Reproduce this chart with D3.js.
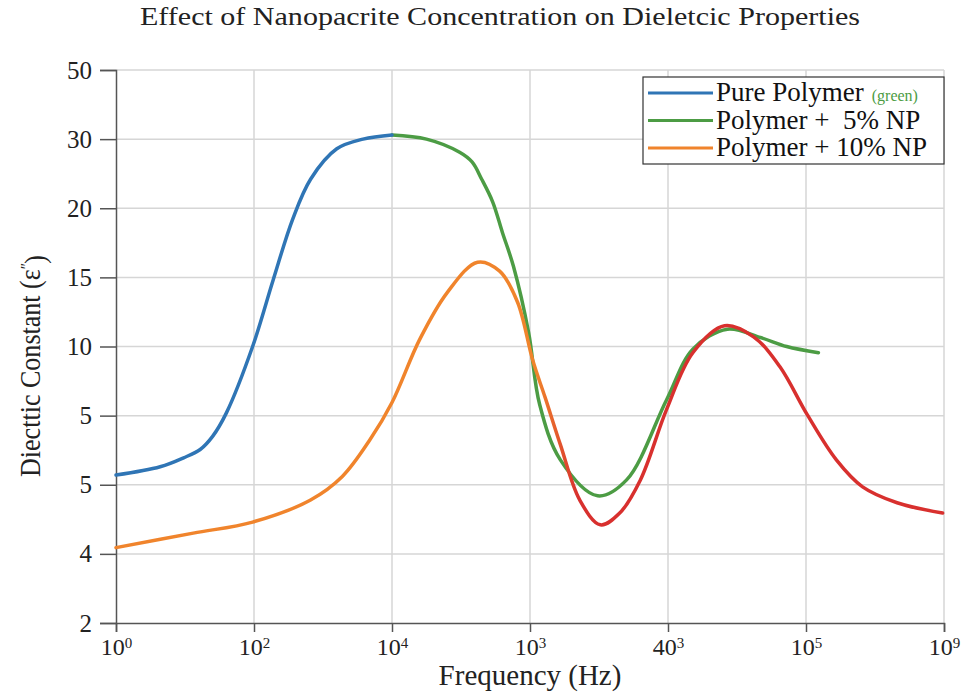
<!DOCTYPE html>
<html>
<head>
<meta charset="utf-8">
<script src="https://cdn.jsdelivr.net/npm/d3@7"></script>
<style>
  body { margin: 0; background: #fff; }
</style>
</head>
<body>
<svg id="chart" width="965" height="694"></svg>
<script>
const width = 965
const height = 694
const serif = 'Liberation Serif'

// tick labels (the axes are evenly spaced, labels as printed)
const xBase = ['10', '10', '10', '10', '40', '10', '10']
const xExp = ['0', '2', '4', '3', '3', '5', '9']
const yLabels = ['2', '4', '5', '5', '10', '15', '20', '30', '50']

// series, positions in tick units (x: tick index, y: tick index)
const pureX = [0, 0.32, 0.49, 0.61, 0.70, 0.80, 0.99, 1.14, 1.28, 1.41, 1.60, 1.79, 2.0]
const pureY = [2.14, 2.26, 2.39, 2.51, 2.70, 3.04, 4.00, 4.97, 5.84, 6.42, 6.86, 7.00, 7.06]

const np5X = [2.0, 2.25, 2.49, 2.58, 2.65, 2.73, 2.80, 2.88, 2.99, 3.07, 3.22, 3.49, 3.70, 3.99, 4.18, 4.43, 4.67, 4.86, 5.09]
const np5Y = [7.06, 7.00, 6.81, 6.67, 6.42, 6.09, 5.65, 5.16, 4.20, 3.16, 2.36, 1.84, 2.07, 3.23, 3.96, 4.25, 4.13, 4.00, 3.91]

const np10X = [0, 0.56, 0.99, 1.41, 1.64, 1.84, 2.0, 2.20, 2.40, 2.62, 2.78, 2.91, 3.02, 3.11, 3.22, 3.36, 3.51, 3.65, 3.80, 3.99, 4.18, 4.41, 4.62, 4.81, 5.01, 5.22, 5.41, 5.66, 5.99]
const np10Y = [1.09, 1.30, 1.46, 1.78, 2.12, 2.65, 3.19, 4.10, 4.78, 5.22, 5.09, 4.64, 3.80, 3.26, 2.58, 1.78, 1.42, 1.59, 2.07, 3.09, 3.91, 4.30, 4.14, 3.71, 3.01, 2.36, 1.97, 1.74, 1.59]

const legendNames = ['Pure Polymer', 'Polymer +  5% NP', 'Polymer + 10% NP']
const colours = ['#2f75b5', '#4c9c44', '#f0842c']
const red = '#d8302e'

const margin = {top: 70, right: 21, bottom: 71, left: 116}

const svg = d3.select('#chart')

const x = d3.scaleLinear()
    .domain([0, 6])
    .range([margin.left, width - margin.right])

const y = d3.scaleLinear()
    .domain([0, 8])
    .range([height - margin.bottom, margin.top])

// grid
const grid = svg.append('g').attr('class', 'grid')
grid.selectAll('line.v')
    .data(d3.range(1, 7))
    .join('line')
    .attr('x1', d => x(d)).attr('x2', d => x(d))
    .attr('y1', y(0)).attr('y2', y(8))
    .attr('stroke', '#d6d6d6').attr('stroke-width', 1.5)
grid.selectAll('line.h')
    .data(d3.range(1, 9))
    .join('line')
    .attr('y1', d => y(d)).attr('y2', d => y(d))
    .attr('x1', x(0)).attr('x2', x(6))
    .attr('stroke', '#d6d6d6').attr('stroke-width', 1.5)

// axes
const xAxis = svg.append('g')
    .attr('transform', `translate(0, ${y(0)})`)
    .call(d3.axisBottom(x).tickValues(d3.range(7)).tickSize(9).tickPadding(6).tickFormat(''))
    .attr('font-family', serif)
xAxis.select('.domain').attr('stroke', '#555').attr('stroke-width', 1.5)
xAxis.selectAll('.tick line').attr('stroke', '#555').attr('stroke-width', 1.5)
xAxis.selectAll('.tick text')
    .attr('fill', '#222')
    .attr('font-family', serif)
    .attr('font-size', 24)
    .each(function (d) {
        const t = d3.select(this)
        t.append('tspan').text(xBase[d])
        t.append('tspan').attr('dy', '-0.5em').attr('font-size', 15).text(xExp[d])
    })

const yAxis = svg.append('g')
    .attr('transform', `translate(${x(0)}, 0)`)
    .call(d3.axisLeft(y).tickValues(d3.range(9)).tickSize(16).tickPadding(8).tickFormat(d => yLabels[d]))
    .attr('font-family', serif)
yAxis.select('.domain').attr('stroke', '#555').attr('stroke-width', 1.5)
yAxis.selectAll('.tick line').attr('stroke', '#555').attr('stroke-width', 1.5)
yAxis.selectAll('.tick text')
    .attr('fill', '#222')
    .attr('font-family', serif)
    .attr('font-size', 25)

// orange -> red gradient for the 10% line
const defs = svg.append('defs')
const grad = defs.append('linearGradient')
    .attr('id', 'np10grad')
    .attr('gradientUnits', 'userSpaceOnUse')
    .attr('x1', x(3.05)).attr('x2', x(3.35))
    .attr('y1', 0).attr('y2', 0)
grad.append('stop').attr('offset', 0).attr('stop-color', colours[2])
grad.append('stop').attr('offset', 1).attr('stop-color', red)

const line = d3.line()
    .x(d => x(d[0]))
    .y(d => y(d[1]))
    .curve(d3.curveCatmullRom.alpha(0.5))

// green under, orange/red on top
const series = [
    {pts: d3.zip(np5X, np5Y), stroke: colours[1]},
    {pts: d3.zip(pureX, pureY), stroke: colours[0]},
    {pts: d3.zip(np10X, np10Y), stroke: 'url(#np10grad)'}
]

svg.append('g')
    .selectAll('path')
    .data(series)
    .join('path')
    .attr('d', d => line(d.pts))
    .attr('fill', 'none')
    .attr('stroke', d => d.stroke)
    .attr('stroke-width', 3.5)
    .attr('stroke-linecap', 'round')

// legend
const lg = svg.append('g').attr('transform', 'translate(643, 77)')
lg.append('rect')
    .attr('width', 301).attr('height', 87)
    .attr('fill', '#fff').attr('stroke', '#333').attr('stroke-width', 1.2)
legendNames.forEach((name, i) => {
    const cy = 16 + i * 27.5
    lg.append('line')
        .attr('x1', 5).attr('x2', 70)
        .attr('y1', cy).attr('y2', cy)
        .attr('stroke', colours[i]).attr('stroke-width', 3)
    const t = lg.append('text')
        .attr('x', 73).attr('y', cy + 8)
        .attr('fill', '#111')
        .attr('font-family', serif)
        .attr('font-size', 27)
        .style('white-space', 'pre')
        .text(name)
    if (i == 0) {
        t.append('tspan')
            .attr('dx', 8)
            .attr('fill', '#4c9c44')
            .attr('font-size', 16)
            .text('(green)')
    }
})

// titles
svg.append('text')
    .attr('x', 500).attr('y', 25)
    .attr('text-anchor', 'middle')
    .attr('fill', '#222')
    .attr('font-family', serif)
    .attr('font-size', 25)
    .attr('textLength', 720)
    .attr('lengthAdjust', 'spacingAndGlyphs')
    .text('Effect of Nanopacrite Concentration on Dieletcic Properties')

svg.append('text')
    .attr('x', 530).attr('y', 685)
    .attr('text-anchor', 'middle')
    .attr('fill', '#222')
    .attr('font-family', serif)
    .attr('font-size', 29)
    .text('Frequency (Hz)')

const yl = svg.append('text')
    .attr('transform', 'translate(40, 366) rotate(-90)')
    .attr('text-anchor', 'middle')
    .attr('fill', '#222')
    .attr('font-family', serif)
    .attr('font-size', 29)
    .attr('textLength', 222)
    .attr('lengthAdjust', 'spacingAndGlyphs')
yl.append('tspan').text('Diecttic Constant (ε')
yl.append('tspan').attr('dy', '-0.45em').attr('font-size', 17).text('ʺ')
yl.append('tspan').attr('dy', '0.45em').text(')')
</script>
</body>
</html>
